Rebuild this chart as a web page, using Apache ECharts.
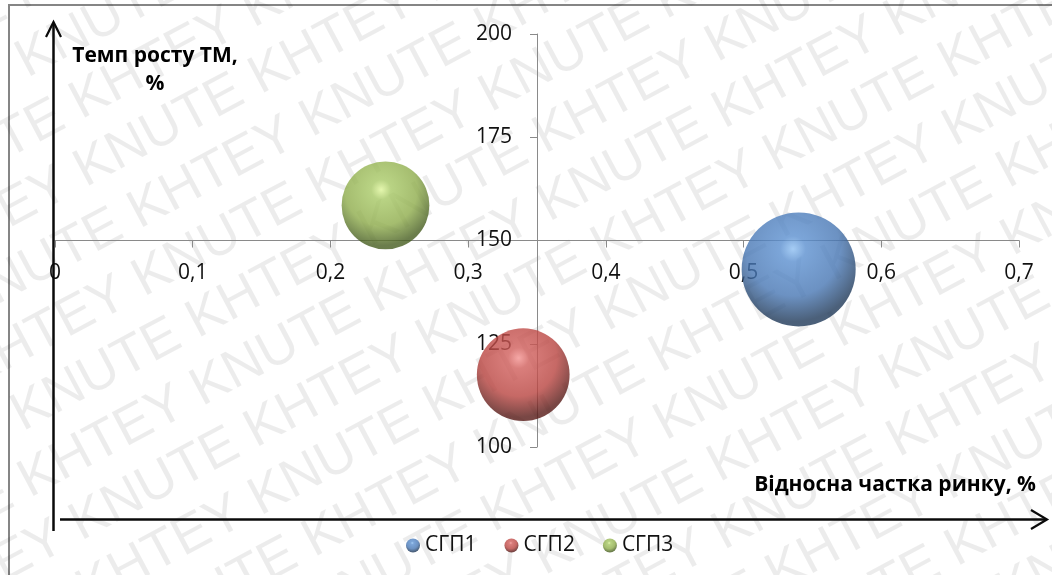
<!DOCTYPE html>
<html>
<head>
<meta charset="utf-8">
<title>BCG</title>
<script src="https://cdn.jsdelivr.net/npm/echarts@6/dist/echarts.min.js"></script>
<style>
  html, body { margin: 0; padding: 0; background: #fff; }
  #chart { width: 1052px; height: 575px; }
</style>
</head>
<body>
<div id="chart"></div>
<script>
// Strategic business units: relative market share vs. market growth rate
const categories = ['СГП1', 'СГП2', 'СГП3'];
const marketShare = [0.54, 0.34, 0.24];      // relative market share
const growthRate = [143, 117.5, 158.5];      // market growth rate, %
const salesVolume = [130, 86, 77];           // bubble size

// Axis scales and crossing point of the quadrant axes
const xTicks = { min: 0, max: 0.7, step: 0.1 };
const yTicks = { min: 100, max: 200, step: 25 };
const crossAt = { x: 0.35, y: 150 };

const yTitle = 'Темп росту ТМ,\n%';
const xTitle = 'Відносна частка ринку, %';
const stampWords = 'KHTEY KNUTE ';

const palette = [
  { light: '#8fc0f2', mid: '#5b8fcf', base: '#4776b3', dark: '#1e3858' },
  { light: '#f39290', mid: '#d05e5b', base: '#b8433f', dark: '#571916' },
  { light: '#def59a', mid: '#a7c865', base: '#8eac4b', dark: '#465d1f' }
];

const W = 1052, H = 575;
const grid = { left: 55, right: 33, top: 34, bottom: 128 };
const plotW = W - grid.left - grid.right;
const plotH = H - grid.top - grid.bottom;

function sphere(c) {
  return new echarts.graphic.RadialGradient(0.45, 0.32, 0.75, [
    { offset: 0, color: c.light },
    { offset: 0.15, color: c.mid },
    { offset: 0.55, color: c.base },
    { offset: 0.85, color: c.dark },
    { offset: 1, color: c.dark }
  ]);
}

const fontUI = '"Open Sans", "Noto Sans", sans-serif';

const series = categories.map((name, i) => ({
  name: name,
  type: 'scatter',
  symbol: 'circle',
  data: [[marketShare[i], growthRate[i], salesVolume[i]]],
  symbolSize: v => Math.sqrt(v[2]) * 10,
  itemStyle: { color: sphere(palette[i]) },
  emphasis: { disabled: true }
}));

// Watermark rows laid across the whole canvas
const stampRows = [];
const rowText = stampWords.repeat(12);
for (let k = -12; k <= 12; k++) {
  stampRows.push({
    type: 'text',
    x: -1100 + (k % 2 === 0 ? 0 : 170),
    y: k * 62,
    style: {
      text: rowText,
      font: '54px "Liberation Sans", Arial, sans-serif',
      fill: 'rgba(0,0,0,0.075)',
      textVerticalAlign: 'middle'
    }
  });
}

const chart = echarts.init(document.getElementById('chart'), null, { renderer: 'canvas' });

chart.setOption({
  backgroundColor: '#ffffff',
  animation: false,
  textStyle: { fontFamily: fontUI },
  grid: grid,
  legend: {
    data: categories,
    left: 401,
    top: 530,
    icon: 'circle',
    itemWidth: 14,
    itemHeight: 14,
    itemGap: 28,
    textStyle: { fontSize: 21, color: '#111', fontFamily: fontUI }
  },
  xAxis: {
    type: 'value',
    min: xTicks.min,
    max: xTicks.max,
    interval: xTicks.step,
    offset: -((crossAt.y - yTicks.min) / (yTicks.max - yTicks.min)) * plotH,
    axisLine: { onZero: false, lineStyle: { color: '#8a8a8a', width: 1 } },
    axisTick: { length: 7, lineStyle: { color: '#8a8a8a' } },
    splitLine: { show: false },
    axisLabel: {
      margin: 22,
      fontSize: 21,
      color: '#111',
      fontFamily: fontUI,
      formatter: v => (v === 0 ? '0' : v.toFixed(1).replace('.', ','))
    }
  },
  yAxis: {
    type: 'value',
    min: yTicks.min,
    max: yTicks.max,
    interval: yTicks.step,
    offset: -((crossAt.x - xTicks.min) / (xTicks.max - xTicks.min)) * plotW,
    axisLine: { show: true, onZero: false, lineStyle: { color: '#8a8a8a', width: 1 } },
    axisTick: { show: true, length: 7, lineStyle: { color: '#8a8a8a' } },
    splitLine: { show: false },
    axisLabel: {
      margin: 25,
      fontSize: 21,
      color: '#111',
      fontFamily: fontUI
    }
  },
  series: series,
  graphic: [
    // frame
    {
      type: 'rect', z: 0, silent: true,
      shape: { x: 9, y: 5, width: 1100, height: 620 },
      style: { fill: 'none', stroke: '#858585', lineWidth: 2 }
    },
    // vertical arrow
    {
      type: 'line', z: 50, silent: true,
      shape: { x1: 53.5, y1: 531, x2: 53.5, y2: 23 },
      style: { stroke: '#0a0a0a', lineWidth: 2.5 }
    },
    {
      type: 'polyline', z: 50, silent: true,
      shape: { points: [[46, 37], [53.5, 22], [61, 37]] },
      style: { stroke: '#0a0a0a', lineWidth: 2.2, fill: 'none' }
    },
    // horizontal arrow
    {
      type: 'line', z: 50, silent: true,
      shape: { x1: 60, y1: 519.5, x2: 1046, y2: 519.5 },
      style: { stroke: '#0a0a0a', lineWidth: 2.5 }
    },
    {
      type: 'polyline', z: 50, silent: true,
      shape: { points: [[1031, 510], [1047, 519.5], [1031, 529]] },
      style: { stroke: '#0a0a0a', lineWidth: 2.2, fill: 'none' }
    },
    // axis titles
    {
      type: 'text', z: 50, silent: true,
      x: 155, y: 42,
      style: {
        text: yTitle,
        font: 'bold 21px ' + fontUI,
        fill: '#000',
        align: 'center',
        lineHeight: 28
      }
    },
    {
      type: 'text', z: 50, silent: true,
      x: 1036, y: 475,
      style: {
        text: xTitle,
        font: 'bold 21px ' + fontUI,
        fill: '#000',
        align: 'right'
      }
    },
    // watermark on top
    {
      type: 'group', z: 200, silent: true,
      x: W / 2, y: H / 2,
      rotation: 28 * Math.PI / 180,
      children: stampRows
    }
  ]
});
</script>
</body>
</html>
